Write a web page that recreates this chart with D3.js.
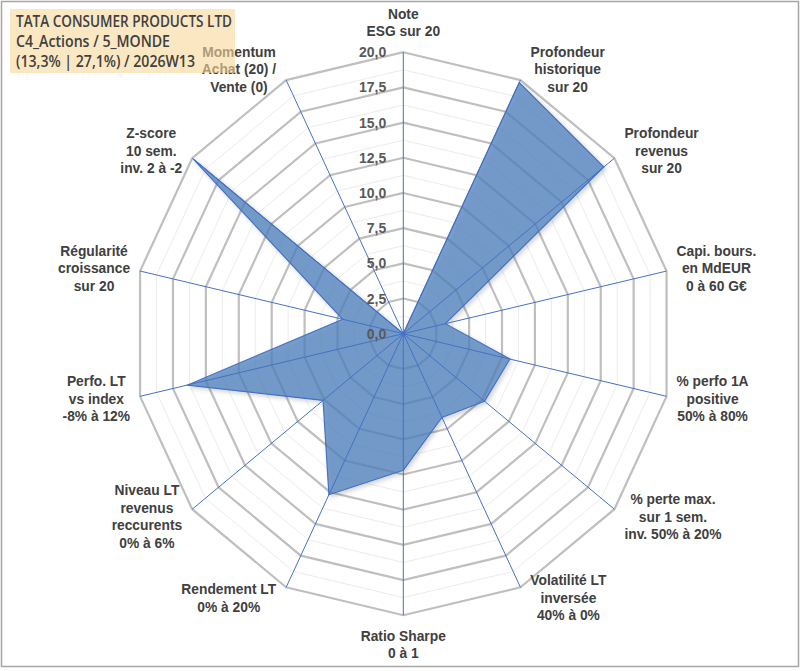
<!DOCTYPE html>
<html lang="fr">
<head>
<meta charset="UTF-8">
<title>TATA CONSUMER PRODUCTS LTD - radar</title>
<script src="https://cdn.jsdelivr.net/npm/d3@7"></script>
<style>
  body { margin: 0; background: #fff; }
  svg { display: block; font-family: "Liberation Sans", Arial, sans-serif; }
</style>
</head>
<body>
<div id="chart"></div>
<script>
// axes du radar, dans le sens horaire depuis le haut
const axisLabels = [
  ["Note", "ESG sur 20"],
  ["Profondeur", "historique", "sur 20"],
  ["Profondeur", "revenus", "sur 20"],
  ["Capi. bours.", "en MdEUR", "0 à 60 G€"],
  ["% perfo 1A", "positive", "50% à 80%"],
  ["% perte max.", "sur 1 sem.", "inv. 50% à 20%"],
  ["Volatilité LT", "inversée", "40% à 0%"],
  ["Ratio Sharpe", "0 à 1"],
  ["Rendement LT", "0% à 20%"],
  ["Niveau LT", "revenus", "reccurents", "0% à 6%"],
  ["Perfo. LT", "vs index", "-8% à 12%"],
  ["Régularité", "croissance", "sur 20"],
  ["Z-score", "10 sem.", "inv. 2 à -2"],
  ["Momentum", "Achat (20) /", "Vente (0)"]
];
const scores = [0, 19.8, 19, 3.2, 8.1, 7.7, 6.6, 9.7, 12.7, 7.6, 16.4, 4.6, 19.9, 0];
const tickValues = [0, 2.5, 5, 7.5, 10, 12.5, 15, 17.5, 20];
const minorValues = [1.25, 3.75, 6.25, 8.75, 11.25, 13.75, 16.25, 18.75];
const titleLines = ["TATA CONSUMER PRODUCTS LTD", "C4_Actions / 5_MONDE", "(13,3% | 27,1%) / 2026W13"];

const width = 801, height = 671;
const cx = 403.3, cy = 333.7, rx = 270, ry = 281.5;
const n = axisLabels.length;

const fr = d3.formatLocale({ decimal: ",", thousands: " ", grouping: [3], currency: ["", " €"] });
const fmt = fr.format(".1f");

const r = d3.scaleLinear().domain([0, 20]).range([0, 1]);
const ang = i => i * 2 * Math.PI / n;
const px = (i, v) => cx + rx * r(v) * Math.sin(ang(i));
const py = (i, v) => cy - ry * r(v) * Math.cos(ang(i));

const svg = d3.select('#chart').append('svg')
  .attr('width', width)
  .attr('height', height);

svg.append('rect')
  .attr('x', 1.5).attr('y', 1.5)
  .attr('width', width - 4).attr('height', height - 6)
  .attr('fill', '#fff')
  .attr('stroke', '#a6a6a6')
  .attr('stroke-width', 1.5);

const defs = svg.append('defs');
defs.append('filter').attr('id', 'shadow')
  .attr('x', '-10%').attr('y', '-10%').attr('width', '120%').attr('height', '120%')
  .append('feDropShadow')
  .attr('dx', 2).attr('dy', 2).attr('stdDeviation', 2)
  .attr('flood-color', '#000').attr('flood-opacity', 0.22);

const ringPath = v => d3.line().curve(d3.curveLinearClosed)(d3.range(n).map(i => [px(i, v), py(i, v)]));

// grille mineure puis majeure
svg.append('g').selectAll('path')
  .data(minorValues)
  .join('path')
  .attr('d', ringPath)
  .attr('fill', 'none')
  .attr('stroke', '#ececec')
  .attr('stroke-width', 1);

svg.append('g').selectAll('path')
  .data(tickValues.filter(v => v > 0))
  .join('path')
  .attr('d', ringPath)
  .attr('fill', 'none')
  .attr('stroke', '#bfbfbf')
  .attr('stroke-width', 2.2);

// série
svg.append('path')
  .datum(scores)
  .attr('d', d3.line().curve(d3.curveLinearClosed)(scores.map((v, i) => [px(i, v), py(i, v)])))
  .attr('fill', '#4f81bd')
  .attr('fill-opacity', 0.75)
  .attr('stroke', '#4472c4')
  .attr('stroke-width', 1.2)
  .attr('filter', 'url(#shadow)');

// rayons
svg.append('g').selectAll('line')
  .data(d3.range(n))
  .join('line')
  .attr('x1', cx).attr('y1', cy)
  .attr('x2', i => px(i, 20)).attr('y2', i => py(i, 20))
  .attr('stroke', '#4472c4')
  .attr('stroke-width', 1);

// étiquettes des axes
const lh = 17.5;
const labels = svg.append('g')
  .attr('font-size', '13.8px')
  .attr('font-weight', 'bold')
  .attr('fill', '#404040')
  .attr('text-anchor', 'middle');

axisLabels.forEach((lines, i) => {
  const t = labels.append('text');
  lines.forEach(l => t.append('tspan').text(l));
  const widest = d3.max(t.selectAll('tspan').nodes(), nd => nd.getComputedTextLength());
  const s = Math.sin(ang(i)), c = Math.cos(ang(i));
  const vx = px(i, 20), vy = py(i, 20);
  let x, y;
  if (Math.abs(s) < 0.01) {
    x = vx;
    y = vy - Math.sign(c) * (lines.length * lh / 2 + 12);
  } else {
    x = vx + Math.sign(s) * (widest / 2 + 10);
    y = vy - c * 12;
  }
  const y0 = y - (lines.length - 1) * lh / 2;
  t.selectAll('tspan')
    .attr('x', x)
    .attr('y', (d, k) => y0 + k * lh)
    .attr('dy', '0.35em');
});

// graduations
svg.append('g')
  .attr('font-size', '14px')
  .attr('font-weight', 'bold')
  .attr('fill', '#595959')
  .attr('text-anchor', 'end')
  .selectAll('text')
  .data(tickValues)
  .join('text')
  .attr('x', cx - 17)
  .attr('y', v => py(0, v))
  .attr('dy', '0.36em')
  .text(fmt);

// cartouche titre (semi-transparent, passe par-dessus l'étiquette Momentum)
const box = svg.append('g');
box.append('rect')
  .attr('x', 10).attr('y', 9)
  .attr('width', 225).attr('height', 64)
  .attr('fill', '#f9d89a')
  .attr('fill-opacity', 0.6);

const titleWidths = [216, 154, 179];
box.selectAll('text')
  .data(titleLines)
  .join('text')
  .attr('x', 16)
  .attr('y', (d, k) => 27 + k * 20)
  .attr('font-family', '"Open Sans", "Noto Sans", sans-serif')
  .attr('font-size', '16px')
  .attr('font-weight', 600)
  .attr('fill', '#404040')
  .attr('textLength', (d, k) => titleWidths[k])
  .attr('lengthAdjust', 'spacingAndGlyphs')
  .text(d => d);
</script>
</body>
</html>
